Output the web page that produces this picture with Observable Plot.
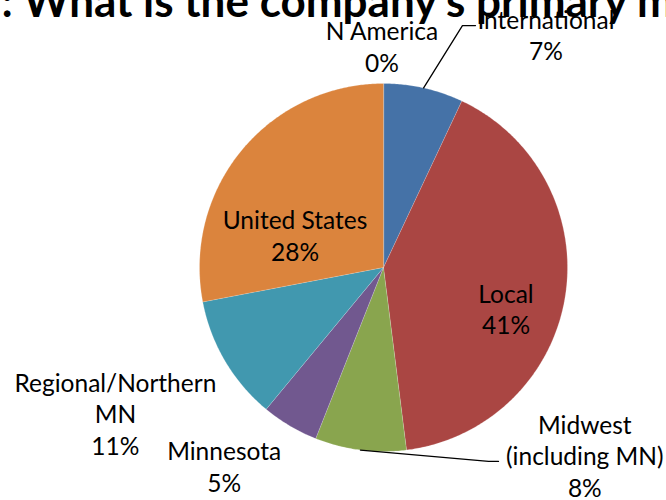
<!DOCTYPE html>
<html>
<head>
<meta charset="utf-8">
<script src="https://cdn.jsdelivr.net/npm/d3@7"></script>
<script src="https://cdn.jsdelivr.net/npm/@observablehq/plot@0.6"></script>
<style>
  html, body { margin: 0; padding: 0; background: #fff; overflow: hidden; }
  #chart svg { display: block; overflow: hidden; }
</style>
</head>
<body>
<div id="chart"></div>
<script>
// ---- data ----
const title = ": What is the company's primary market?";
const categories = ["N America", "International", "Local", "Midwest (including MN)", "Minnesota", "Regional/Northern MN", "United States"];
const labelNames = ["N America", "International", "Local", "Midwest\n(including MN)", "Minnesota", "Regional/Northern\nMN", "United States"];
const values = [0, 7, 41, 8, 5, 11, 28];
const colors = ["#4572A7", "#4572A7", "#AA4643", "#89A54E", "#71588F", "#4198AF", "#DB843D"];

// ---- layout (pie geometry & label placement, in radius units) ----
const W = 666, H = 500, cx = 383, cy = 267, R = 184;
const labelPolar = [[-0.4, 1.203], [34.85, 1.545], [108.5, 0.702], [133.0, 1.496], [218.8, 1.382], [241.5, 1.658], [290.4, 0.513]];
const leaderBends = {
  "International": [[0.429, 1.315], [0.500, 1.315]],
  "Midwest (including MN)": [[0.571, -1.054], [0.625, -1.054]]
};
const font = "Lato, 'Open Sans', 'DejaVu Sans', sans-serif";

// ---- derived geometry ----
const total = d3.sum(values);
const rad = a => a * Math.PI / 180;
const polar = (deg, r) => [r * Math.sin(rad(deg)), r * Math.cos(rad(deg))];
let acc = 0;
const slices = categories.map((c, i) => {
  const a0 = acc / total * 360; acc += values[i];
  const a1 = acc / total * 360;
  return {category: c, value: values[i], a0, a1, mid: (a0 + a1) / 2, i};
});
const piePts = [];
for (const s of slices) {
  if (s.value <= 0) continue;
  piePts.push({category: s.category, x: 0, y: 0});
  const n = Math.max(2, Math.ceil((s.a1 - s.a0) / 0.5));
  for (let k = 0; k <= n; k++) {
    const [x, y] = polar(s.a0 + (s.a1 - s.a0) * k / n, 1);
    piePts.push({category: s.category, x, y});
  }
}
const labels = slices.map(s => {
  const [x, y] = polar(labelPolar[s.i][0], labelPolar[s.i][1]);
  return {x, y, text: labelNames[s.i] + "\n" + s.value + "%"};
});
const leaderPts = [];
for (const s of slices) {
  const bends = leaderBends[s.category];
  if (!bends) continue;
  const [x, y] = polar(s.mid, 1);
  leaderPts.push({category: s.category, x, y});
  for (const [bx, by] of bends) leaderPts.push({category: s.category, x: bx, y: by});
}

const chart = Plot.plot({
  width: W, height: H,
  margin: 0,
  x: {domain: [-cx / R, (W - cx) / R], axis: null},
  y: {domain: [-(H - cy) / R, cy / R], axis: null},
  color: {domain: categories, range: colors},
  style: {fontFamily: font, background: "#fff", overflow: "hidden"},
  marks: [
    Plot.line(piePts, {x: "x", y: "y", z: "category", fill: "category", stroke: "#fff", strokeWidth: 0.4, strokeOpacity: 0.5, curve: "linear-closed"}),
    Plot.line(leaderPts, {x: "x", y: "y", z: "category", stroke: "#000", strokeWidth: 1.3, curve: "linear"}),
    Plot.text(labels, {x: "x", y: "y", text: "text", fontSize: 24.5, lineHeight: 1.29, lineAnchor: "middle", textAnchor: "middle", fill: "#000", fontFamily: font}),
    Plot.text([title], {frameAnchor: "top-left", text: d => d, dx: 1, dy: 16, lineAnchor: "bottom", textAnchor: "start", fontSize: 44, fontWeight: "bold", fill: "#000", fontFamily: font})
  ]
});
document.getElementById("chart").appendChild(chart);
</script>
</body>
</html>
